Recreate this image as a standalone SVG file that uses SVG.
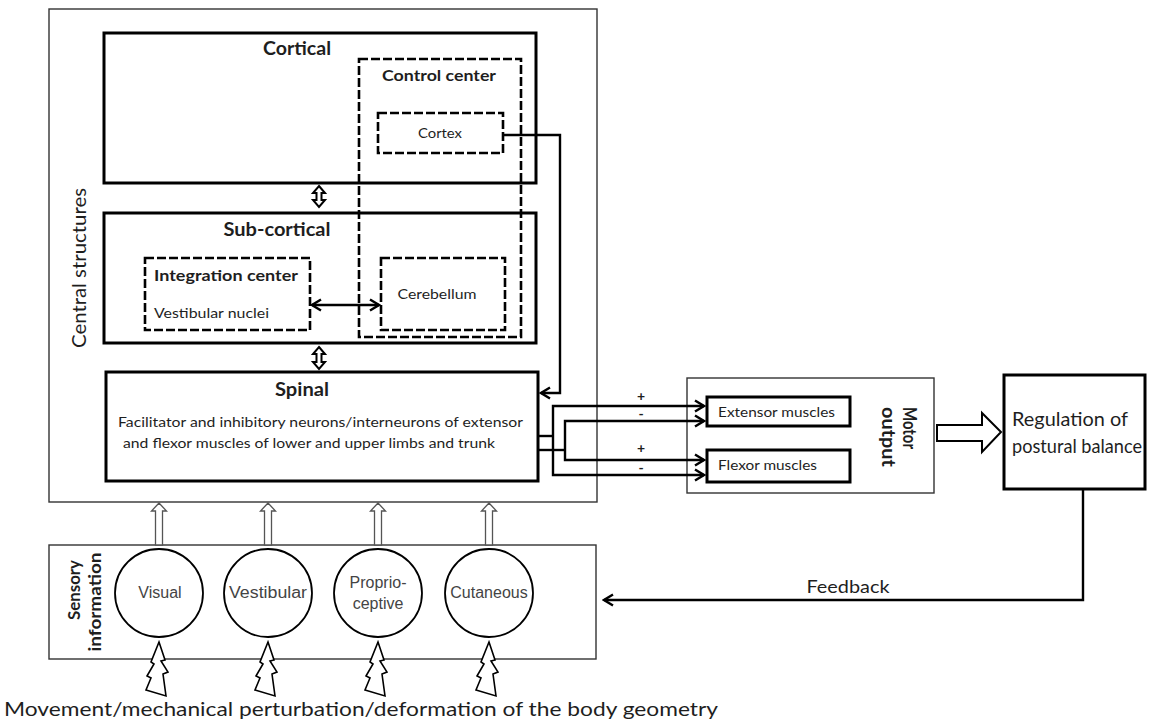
<svg xmlns="http://www.w3.org/2000/svg" width="1163" height="728" viewBox="0 0 1163 728">
<style>
.t{font-family:Lato,"Open Sans","Liberation Sans",sans-serif;fill:#1e1e1e}
.b{font-weight:bold}
.a{font-family:"Liberation Sans",Arial,sans-serif;fill:#444;font-size:16px}
.thin{fill:none;stroke:#333;stroke-width:1.4}
.thick{fill:#fff;stroke:#000;stroke-width:3}
.dash{fill:none;stroke:#000;stroke-width:2.6;stroke-dasharray:9 3}
.ln{fill:none;stroke:#000;stroke-width:2.4}
.hol{fill:#fff;stroke:#000;stroke-width:2}
.up{fill:#fff;stroke:#555;stroke-width:1.3}
.bolt{fill:#fff;stroke:#000;stroke-width:1.6;stroke-linejoin:miter}
.circ{fill:#fff;stroke:#000;stroke-width:1.8}
</style>
<defs>
<marker id="ah" markerUnits="userSpaceOnUse" markerWidth="14" markerHeight="14" viewBox="0 0 14 14" refX="12" refY="7" orient="auto-start-reverse">
<path d="M3,1.5 L12,7 L3,12.5" fill="none" stroke="#000" stroke-width="2.4"/>
</marker>
</defs>
<rect width="1163" height="728" fill="#fff"/>

<g id="central-structures">
<rect class="thin" x="49" y="9" width="548" height="493"/>
<text class="t" font-size="19" transform="translate(86,268) rotate(-90)" text-anchor="middle" textLength="160" lengthAdjust="spacingAndGlyphs">Central structures</text>
</g>

<g id="cortical">
<rect class="thick" x="104" y="33" width="432" height="150"/>
<text class="t b" font-size="19" x="297" y="55" text-anchor="middle" textLength="68" lengthAdjust="spacingAndGlyphs">Cortical</text>
</g>

<g id="sub-cortical">
<rect class="thick" x="104" y="213" width="432" height="130"/>
<text class="t b" font-size="19" x="277" y="236" text-anchor="middle" textLength="107" lengthAdjust="spacingAndGlyphs">Sub-cortical</text>
</g>

<g id="control-center">
<rect class="dash" x="359" y="59" width="162" height="278"/>
<text class="t b" font-size="16" x="439" y="81" text-anchor="middle" textLength="114" lengthAdjust="spacingAndGlyphs">Control center</text>
</g>

<g id="cortex">
<rect class="dash" x="378" y="113" width="125" height="40"/>
<text class="t" font-size="14" x="440" y="138" text-anchor="middle" textLength="44" lengthAdjust="spacingAndGlyphs">Cortex</text>
</g>

<g id="integration-center">
<rect class="dash" x="145" y="258" width="165" height="72"/>
<text class="t b" font-size="16" x="154" y="281" textLength="144" lengthAdjust="spacingAndGlyphs">Integration center</text>
<text class="t" font-size="14" x="154" y="318" textLength="115" lengthAdjust="spacingAndGlyphs">Vestibular nuclei</text>
</g>

<g id="cerebellum">
<rect class="dash" x="381" y="258" width="124" height="72"/>
<text class="t" font-size="14" x="437" y="299" text-anchor="middle" textLength="79" lengthAdjust="spacingAndGlyphs">Cerebellum</text>
</g>

<g id="spinal">
<rect class="thick" x="106" y="372" width="432" height="109"/>
<text class="t b" font-size="19" x="302" y="396" text-anchor="middle" textLength="54" lengthAdjust="spacingAndGlyphs">Spinal</text>
<text class="t" font-size="14" x="118" y="427" textLength="405" lengthAdjust="spacingAndGlyphs">Facilitator and inhibitory neurons/interneurons of extensor</text>
<text class="t" font-size="14" x="123" y="448" textLength="372" lengthAdjust="spacingAndGlyphs">and flexor muscles of lower and upper limbs and trunk</text>
</g>

<g id="motor-output">
<rect class="thin" x="687" y="378" width="247" height="115"/>
<text class="t b" font-size="18" transform="translate(903,407) rotate(90)" textLength="42" lengthAdjust="spacingAndGlyphs">Motor</text>
<text class="t b" font-size="18" transform="translate(882,407) rotate(90)" textLength="60" lengthAdjust="spacingAndGlyphs">output</text>
</g>

<g id="extensor-muscles">
<rect class="thick" x="707" y="397" width="143" height="29" stroke-width="2.6"/>
<text class="t" font-size="14" x="718" y="417" textLength="117" lengthAdjust="spacingAndGlyphs">Extensor muscles</text>
</g>

<g id="flexor-muscles">
<rect class="thick" x="707" y="450" width="143" height="32" stroke-width="2.6"/>
<text class="t" font-size="14" x="718" y="470" textLength="99" lengthAdjust="spacingAndGlyphs">Flexor muscles</text>
</g>

<g id="regulation">
<rect class="thick" x="1004" y="375" width="141" height="114" stroke-width="2.6"/>
<text class="t" font-size="19" x="1012" y="426" textLength="116" lengthAdjust="spacingAndGlyphs">Regulation of</text>
<text class="t" font-size="19" x="1012" y="453" textLength="130" lengthAdjust="spacingAndGlyphs">postural balance</text>
</g>

<g id="sensory-information">
<rect class="thin" x="49" y="545" width="547" height="114"/>
<text class="t b" font-size="17" transform="translate(80,590) rotate(-90)" text-anchor="middle" textLength="60" lengthAdjust="spacingAndGlyphs">Sensory</text>
<text class="t b" font-size="17" transform="translate(101,602) rotate(-90)" text-anchor="middle" textLength="99" lengthAdjust="spacingAndGlyphs">information</text>
</g>

<g id="visual">
<circle class="circ" cx="159" cy="593" r="44"/>
<text class="a" x="160" y="598" text-anchor="middle">Visual</text>
</g>
<g id="vestibular">
<circle class="circ" cx="268" cy="593" r="44"/>
<text class="a" x="268" y="598" text-anchor="middle" textLength="78" lengthAdjust="spacingAndGlyphs">Vestibular</text>
</g>
<g id="proprioceptive">
<circle class="circ" cx="378" cy="593" r="44"/>
<text class="a" x="378" y="588" text-anchor="middle">Proprio-</text>
<text class="a" x="378" y="609" text-anchor="middle">ceptive</text>
</g>
<g id="cutaneous">
<circle class="circ" cx="489" cy="593" r="44"/>
<text class="a" x="489" y="598" text-anchor="middle" font-size="15">Cutaneous</text>
</g>

<g id="connectors">
<polyline class="ln" points="503,135 560,135 560,393 541,393" marker-end="url(#ah)"/>
<line class="ln" x1="312" y1="305" x2="379" y2="305" marker-start="url(#ah)" marker-end="url(#ah)" stroke-width="2"/>
<polygon class="hol" points="319,186 325,193 321.5,193 321.5,200 325,200 319,207 313,200 316.5,200 316.5,193 313,193"/>
<polygon class="hol" points="319,347 325,354 321.5,354 321.5,362 325,362 319,369 313,362 316.5,362 316.5,354 313,354"/>
<polyline class="ln" points="538,436 553,436"/>
<polyline class="ln" points="704,406 553,406 553,475 704,475" marker-start="url(#ah)" marker-end="url(#ah)"/>
<polyline class="ln" points="538,450 565,450"/>
<polyline class="ln" points="704,421 565,421 565,460 704,460" marker-start="url(#ah)" marker-end="url(#ah)"/>
<text class="t b" font-size="14" x="641" y="401" text-anchor="middle">+</text>
<text class="t b" font-size="14" x="641" y="419" text-anchor="middle">-</text>
<text class="t b" font-size="14" x="641" y="453" text-anchor="middle">+</text>
<text class="t b" font-size="14" x="641" y="473" text-anchor="middle">-</text>
<polygon class="hol" stroke-width="2.4" points="937,425 982,425 982,413 1001,432 982,452 982,441 937,441"/>
<polyline class="ln" points="1083,489 1083,600 604,600" marker-end="url(#ah)"/>
<text class="t" font-size="17" x="848" y="593" text-anchor="middle" textLength="83" lengthAdjust="spacingAndGlyphs">Feedback</text>
<polygon class="up" points="159,503 166.5,511 162.5,511 162.5,545 155.5,545 155.5,511 151.5,511"/>
<polygon class="up" points="268,503 275.5,511 271.5,511 271.5,545 264.5,545 264.5,511 260.5,511"/>
<polygon class="up" points="378,503 385.5,511 381.5,511 381.5,545 374.5,545 374.5,511 370.5,511"/>
<polygon class="up" points="489,503 496.5,511 492.5,511 492.5,545 485.5,545 485.5,511 481.5,511"/>
<polygon class="bolt" points="159,642 165,660 161,661 168,672 163,674 166,696 146,690 151,678 147,676 154,664 151,662"/>
<polygon class="bolt" points="268,642 274,660 270,661 277,672 272,674 275,696 255,690 260,678 256,676 263,664 260,662"/>
<polygon class="bolt" points="378,642 384,660 380,661 387,672 382,674 385,696 365,690 370,678 366,676 373,664 370,662"/>
<polygon class="bolt" points="489,642 495,660 491,661 498,672 493,674 496,696 476,690 481,678 477,676 484,664 481,662"/>
</g>

<g id="caption">
<text class="t" font-size="19" x="4" y="716" textLength="714" lengthAdjust="spacingAndGlyphs">Movement/mechanical perturbation/deformation of the body geometry</text>
</g>
</svg>
